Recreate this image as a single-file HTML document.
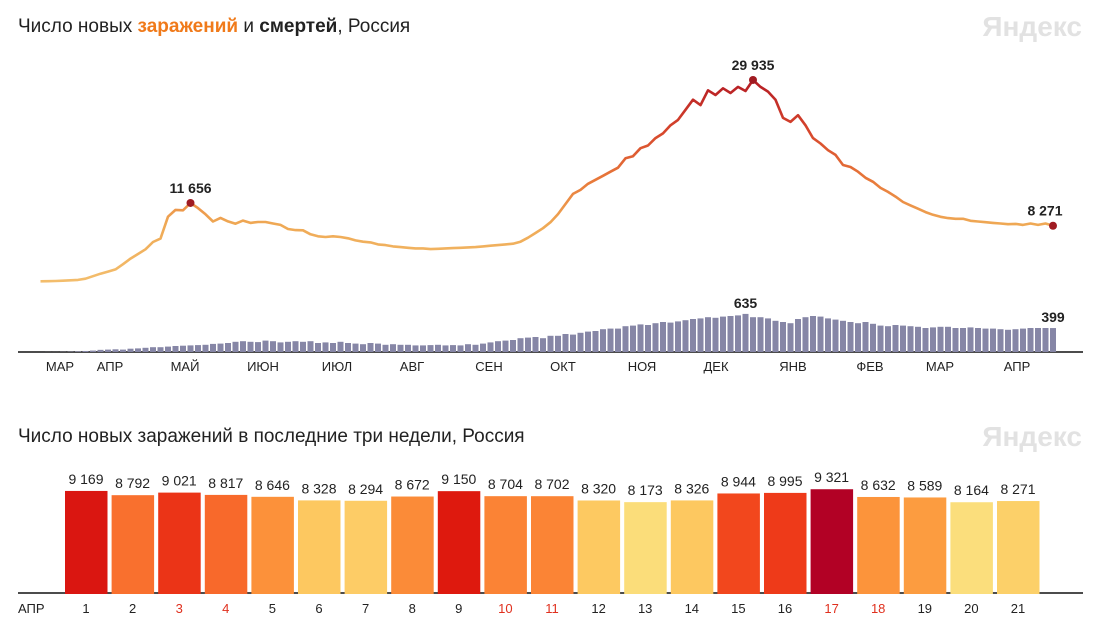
<!DOCTYPE html>
<html><head><meta charset="utf-8">
<style>
body{margin:0;background:#fff;width:1103px;height:643px;overflow:hidden;font-family:"Liberation Sans","DejaVu Sans",sans-serif;}
svg{display:block}
</style></head>
<body>
<svg id="c" width="1103" height="643">
<defs>
<linearGradient id="lg" gradientUnits="userSpaceOnUse" x1="0" y1="281" x2="0" y2="80">
<stop offset="0" stop-color="#f3bd6c"/>
<stop offset="0.28" stop-color="#efa955"/>
<stop offset="0.5" stop-color="#e8793a"/>
<stop offset="0.75" stop-color="#d6452c"/>
<stop offset="1" stop-color="#b51c24"/>
</linearGradient>
</defs>
<text x="18" y="32" font-size="19" fill="#222">Число новых <tspan fill="#f07a1a" font-weight="bold">заражений</tspan> и <tspan font-weight="bold">смертей</tspan>, Россия</text>
<text x="1082" y="36" font-size="28" font-weight="bold" fill="#e2e2e2" text-anchor="end">Яндекс</text>
<text x="18" y="442" font-size="19" fill="#222">Число новых заражений в последние три недели, Россия</text>
<text x="1082" y="446" font-size="28" font-weight="bold" fill="#e2e2e2" text-anchor="end">Яндекс</text>
<line x1="18" y1="352" x2="1083" y2="352" stroke="#111" stroke-width="1.5"/>
<line x1="18" y1="593" x2="1083" y2="593" stroke="#111" stroke-width="1.5"/>
<g id="topg"></g>
<g id="botg"></g>
</svg>
<script>
const startDay = 11;
const stepDays = 3;
const cases = [10,30,60,100,160,230,400,
770,1150,1460,1790,2550,3390,4070,4770,5850,
6360,9620,10630,10560,11656,10900,9970,8900,9430,
8920,8570,9030,8700,8830,8830,8600,8400,7790,
7630,7600,7000,6700,6600,6700,6600,6400,6100,
5900,5800,5500,5400,5200,5100,5000,4900,4900,
4800,4850,4900,4950,5000,5050,5100,5200,5300,
5400,5500,5600,5900,6500,7200,7900,8800,10000,
11500,13000,13600,14500,15100,15700,16300,16900,18300,
18600,19800,20200,21300,22000,23200,24000,25500,27000,
26200,28400,27700,28700,28000,28900,28300,29935,28900,
28200,27000,24300,23700,24700,23200,21300,20500,19500,
18800,17300,17000,16300,15400,14800,13900,13300,12600,
11800,11300,10800,10300,9900,9600,9400,9300,9300,
9000,8900,8800,8700,8600,8500,8550,8400,8600,
8400,8600,8271];
const deaths = [0,1,1,3,5,9,17,
24,36,40,45,40,55,60,70,80,
80,90,100,105,110,115,120,135,140,
150,170,180,170,165,190,180,160,170,
180,170,180,150,160,150,170,150,140,
130,150,140,120,130,120,120,110,110,
115,120,110,115,110,130,120,140,160,
180,190,200,230,240,250,230,270,270,
300,290,320,340,350,380,390,390,430,
440,460,450,480,500,490,510,530,550,
560,580,570,590,600,610,635,580,580,
560,520,500,480,550,580,600,590,560,
540,520,500,480,500,470,440,430,450,
440,430,420,400,410,420,420,400,400,
410,400,390,390,380,370,380,390,400,
400,400,399];
const monthLabels = ["МАР","АПР","МАЙ","ИЮН","ИЮЛ","АВГ","СЕН","ОКТ","НОЯ","ДЕК","ЯНВ","ФЕВ","МАР","АПР"];

const aprDays = [1,2,3,4,5,6,7,8,9,10,11,12,13,14,15,16,17,18,19,20,21];
const aprCases = [9169,8792,9021,8817,8646,8328,8294,8672,9150,8704,8702,8320,8173,8326,8944,8995,9321,8632,8589,8164,8271];
const weekendDays = [3,4,10,11,17,18];

const NS="http://www.w3.org/2000/svg";
function mk(tag,attrs,parent){const e=document.createElementNS(NS,tag);for(const k in attrs)e.setAttribute(k,attrs[k]);parent.appendChild(e);return e;}
function fmt(v){return String(v).replace(/\B(?=(\d{3})+(?!\d))/g," ");}

const xDay = d => 758 + (d-298)*2.5;
const yCase = v => 281.4 - v*0.006729;
const yDeath = v => 352 - v*0.06;
const topG=document.getElementById('topg');

deaths.forEach((v,i)=>{
  const d=startDay+i*stepDays;
  const r=mk('rect',{x:xDay(d)-3,y:yDeath(v),width:6,height:352-yDeath(v),fill:'#8686a6'},topG);
  
  
});
let dstr="";
cases.forEach((v,i)=>{dstr+=(i?"L":"M")+xDay(startDay+i*stepDays).toFixed(1)+","+yCase(v).toFixed(1);});
const ln=mk('path',{d:dstr,fill:'none',stroke:'url(#lg)','stroke-width':2.6,'stroke-linejoin':'round'},topG);



function markCase(i,dx){
  const d=startDay+i*stepDays,v=cases[i];
  const c=mk('circle',{cx:xDay(d),cy:yCase(v),r:4,fill:'#a01b22'},topG);
  
  
  const t=mk('text',{x:xDay(d)+dx,y:yCase(v)-10,'font-size':14,'font-weight':'bold',fill:'#222','text-anchor':'middle'},topG);
  t.textContent=fmt(v);
  
  
}
let mi=0;for(let i=0;i<40;i++)if(cases[i]>cases[mi])mi=i;
markCase(mi,0);
let gi=0;cases.forEach((v,i)=>{if(v>cases[gi])gi=i;});
markCase(gi,0);
markCase(cases.length-1,-8);
let di=0;deaths.forEach((v,i)=>{if(v>deaths[di])di=i;});
[di,deaths.length-1].forEach(i=>{
  const t=mk('text',{x:xDay(startDay+i*stepDays),y:yDeath(deaths[i])-6,'font-size':14,'font-weight':'bold',fill:'#222','text-anchor':'middle'},topG);
  t.textContent=fmt(deaths[i]);
  
  
});
const monthCenters=[60,110,185,263,337,412,489,563,642,716,793,870,940,1017];
monthLabels.forEach((m,i)=>{
  const t=mk('text',{x:monthCenters[i],y:371,'font-size':13,fill:'#222','text-anchor':'middle'},topG);
  t.textContent=m;
  
  
});

const botG=document.getElementById('botg');
const yB = v => 594 - v*0.01124;
const xB = i => 65 + i*46.6;
const lo=8150, hi=9330;
function col(v){
  const stops=[[0,[251,224,126]],[0.15,[253,200,96]],[0.4,[252,150,60]],[0.55,[249,110,45]],[0.7,[240,62,26]],[0.85,[222,24,14]],[0.92,[200,14,30]],[1,[176,0,38]]];
  const t=Math.max(0,Math.min(1,(v-lo)/(hi-lo)));
  for(let k=1;k<stops.length;k++){if(t<=stops[k][0]){const a=stops[k-1],b=stops[k],f=(t-a[0])/(b[0]-a[0]);return 'rgb('+a[1].map((c,j)=>Math.round(c+(b[1][j]-c)*f)).join(',')+')';}}
  return 'rgb(176,0,38)';
}
aprCases.forEach((v,i)=>{
  const r=mk('rect',{x:xB(i),y:yB(v),width:42.5,height:594-yB(v),fill:col(v)},botG);
  
  
  const t=mk('text',{x:xB(i)+21,y:yB(v)-7,'font-size':14,fill:'#222','text-anchor':'middle'},botG);
  t.textContent=fmt(v);
  
  
  const d=mk('text',{x:xB(i)+21,y:613,'font-size':13,fill:weekendDays.includes(aprDays[i])?'#e0301e':'#222','text-anchor':'middle'},botG);
  d.textContent=aprDays[i];
  
  
});
const ap=mk('text',{x:18,y:613,'font-size':13,fill:'#222'},botG);
ap.textContent="АПР";


</script>
</body></html>
